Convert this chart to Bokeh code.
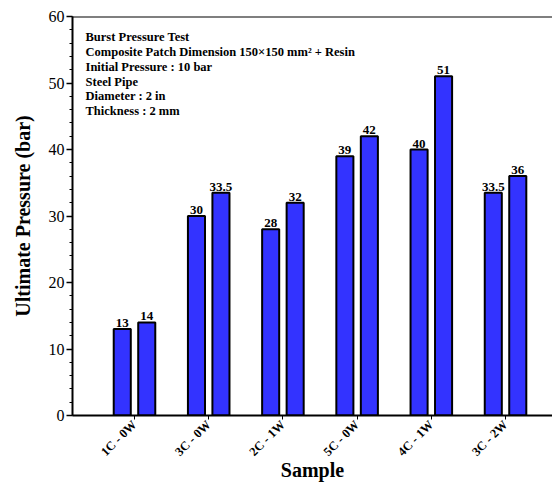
from bokeh.plotting import figure
from bokeh.models import Range1d, FixedTicker, Label, Span, ColumnDataSource
from bokeh.embed import file_html
from bokeh.resources import INLINE
from bokeh.core.properties import value
import numpy as np

samples = ["1C - 0W", "3C - 0W", "2C - 1W", "5C - 0W", "4C - 1W", "3C - 2W"]
series_a = [13, 30, 28, 39, 40, 33.5]
series_b = [14, 33.5, 32, 42, 51, 36]
y_ticks = [0, 10, 20, 30, 40, 50, 60]

FONT = "Liberation Serif"
BLUE = "#3333ff"

pos = np.arange(1, len(samples) + 1)
off = 0.165

p = figure(width=552, height=483, output_backend="svg", toolbar_location=None,
           x_range=Range1d(0.1645, 6.633), y_range=Range1d(0, 60),
           min_border_left=72, min_border_right=0, min_border_top=16, min_border_bottom=0)
p.outline_line_color = None
p.grid.visible = False
p.background_fill_color = "white"

def fmt(v):
    return str(int(v)) if float(v).is_integer() else str(v)

for vals, d in ((series_a, -off), (series_b, off)):
    src = ColumnDataSource(dict(x=pos + d, top=vals, lab=[fmt(v) for v in vals]))
    p.vbar(x="x", top="top", width=0.23, source=src, fill_color=BLUE,
           line_color="black", line_width=2)
    p.text(x="x", y="top", text="lab", source=src, text_align="center",
           text_baseline="bottom", y_offset=-2, text_font=value(FONT),
           text_font_style="bold", text_font_size="13px", text_color="black")

# y axis
ya = p.yaxis[0]
ya.ticker = FixedTicker(ticks=y_ticks, minor_ticks=list(np.arange(0, 61, 2)))
ya.axis_label = "Ultimate Pressure (bar)"
ya.axis_label_text_font = FONT
ya.axis_label_text_font_style = "bold"
ya.axis_label_text_font_size = "20px"
ya.axis_label_text_color = "black"
ya.axis_label_standoff = 12
ya.major_label_text_font = FONT
ya.major_label_text_font_size = "16px"
ya.major_label_text_color = "black"
ya.major_label_standoff = 2
ya.axis_line_width = 2
ya.major_tick_line_width = 1.5
ya.major_tick_out = 6
ya.major_tick_in = 0
ya.minor_tick_out = 3
ya.minor_tick_in = 0

# x axis
xa = p.xaxis[0]
xa.ticker = FixedTicker(ticks=list(pos), minor_ticks=[])
xa.major_label_overrides = {int(k): s for k, s in zip(pos, samples)}
xa.major_label_orientation = np.pi / 4
xa.major_label_text_font = FONT
xa.major_label_text_font_style = "bold"
xa.major_label_text_font_size = "12.5px"
xa.major_label_text_color = "black"
xa.major_label_standoff = 3
xa.axis_label = "Sample"
xa.axis_label_text_font = FONT
xa.axis_label_text_font_style = "bold"
xa.axis_label_text_font_size = "20px"
xa.axis_label_text_color = "black"
xa.axis_label_standoff = -8
xa.axis_line_width = 2
xa.major_tick_out = 4
xa.major_tick_in = 0
xa.minor_tick_line_color = None

p.add_layout(Span(location=60, dimension="width", line_color="black", line_width=2))

info = ("Burst Pressure Test\n"
        "Composite Patch Dimension 150\u00d7150 mm\u00b2 + Resin\n"
        "Initial Pressure : 10 bar\n"
        "Steel Pipe\n"
        "Diameter : 2 in\n"
        "Thickness : 2 mm")
p.add_layout(Label(x=0.34, y=57.9, text=info, text_font=FONT, text_font_style="bold",
                   text_font_size="12.5px", text_baseline="top", text_align="left",
                   text_line_height=1.05, text_color="black"))

open("out.html", "w").write(file_html(p, INLINE))
